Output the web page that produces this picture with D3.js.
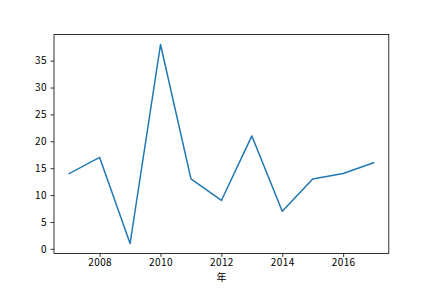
<!DOCTYPE html>
<html>
<head>
<meta charset="utf-8">
<script src="https://cdn.jsdelivr.net/npm/d3@7"></script>
<style>
  body { margin: 0; background: #fff; }
  svg text { font-family: "Noto Sans CJK JP", "DejaVu Sans", sans-serif; font-size: 10px; fill: #000; }
  .tick text { letter-spacing: 0.4px; }
</style>
</head>
<body>
<svg id="chart" width="432" height="288"></svg>
<script>
// values
var years = [2007, 2008, 2009, 2010, 2011, 2012, 2013, 2014, 2015, 2016, 2017];
var counts = [14, 17, 1, 38, 13, 9, 21, 7, 13, 14, 16];
var xTicks = [2008, 2010, 2012, 2014, 2016];
var yTicks = [0, 5, 10, 15, 20, 25, 30, 35];
var xLabel = "年";

var svg = d3.select("#chart");
var plotLeft = 54, plotRight = 388.8, plotTop = 34.56, plotBottom = 253.44;

// matplotlib style 5% margins
var xPad = (d3.max(years) - d3.min(years)) * 0.05,
	yPad = (d3.max(counts) - d3.min(counts)) * 0.05;

var x = d3.scaleLinear()
	.domain([d3.min(years) - xPad, d3.max(years) + xPad])
	.range([plotLeft, plotRight]);
var y = d3.scaleLinear()
	.domain([d3.min(counts) - yPad, d3.max(counts) + yPad])
	.range([plotBottom, plotTop]);

var line = d3.line()
	.x(function(d, i) { return x(years[i]); })
	.y(function(d) { return y(d); });

svg.append("path")
	.datum(counts)
	.attr("d", line)
	.attr("fill", "none")
	.attr("stroke", "#1f77b4")
	.attr("stroke-width", 1.5)
	.attr("stroke-linejoin", "round")
	.attr("stroke-linecap", "square");

var xAxis = svg.append("g")
	.attr("transform", "translate(0," + plotBottom + ")")
	.call(d3.axisBottom(x).tickValues(xTicks).tickFormat(d3.format("d")).tickSize(3.5).tickPadding(2));
var yAxis = svg.append("g")
	.attr("transform", "translate(" + plotLeft + ",0)")
	.call(d3.axisLeft(y).tickValues(yTicks).tickFormat(d3.format("d")).tickSize(3.5).tickPadding(3.5));

[xAxis, yAxis].forEach(function(a) {
	a.select(".domain").remove();
	a.selectAll(".tick line").attr("stroke", "#000").attr("stroke-width", 0.8);
	a.selectAll("text").attr("font-family", null).attr("font-size", null).attr("fill", "#000");
});

// frame
svg.append("rect")
	.attr("x", plotLeft).attr("y", plotTop)
	.attr("width", plotRight - plotLeft).attr("height", plotBottom - plotTop)
	.attr("fill", "none")
	.attr("stroke", "#000")
	.attr("stroke-width", 0.8);

svg.append("text")
	.attr("x", (plotLeft + plotRight) / 2)
	.attr("y", plotBottom + 27.2)
	.attr("text-anchor", "middle")
	.text(xLabel);
</script>
</body>
</html>
